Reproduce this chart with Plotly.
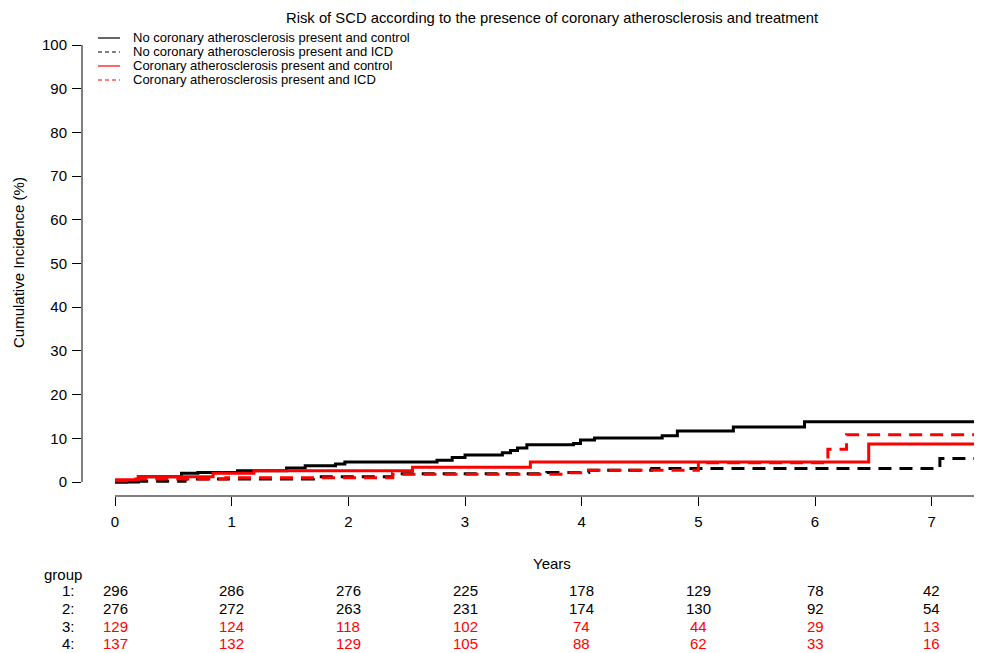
import plotly.graph_objects as go

# ---------------- data ----------------
title_text = "Risk of SCD according to the presence of coronary atherosclerosis and treatment"
series_names = [
    "No coronary atherosclerosis present and control",
    "No coronary atherosclerosis present and ICD",
    "Coronary atherosclerosis present and control",
    "Coronary atherosclerosis present and ICD",
]
series_colors = ["black", "black", "red", "red"]
series_dash = ["solid", "13px,8px", "solid", "13px,8px"]

g1_time = [0, 0.20, 0.57, 0.71, 1.05, 1.47, 1.63, 1.89, 1.97, 2.76, 2.89, 3.00, 3.32, 3.39,
           3.45, 3.53, 3.93, 3.99, 4.11, 4.69, 4.82, 5.30, 5.91, 7.6]
g1_cif = [0, 1.2, 2.0, 2.2, 2.6, 3.2, 3.7, 4.1, 4.6, 5.0, 5.6, 6.2, 6.7, 7.2,
          7.8, 8.5, 8.8, 9.6, 10.1, 10.6, 11.7, 12.6, 13.8, 13.8]

g2_time = [0, 0.10, 0.60, 1.70, 2.38, 3.70, 4.06, 4.60, 7.07, 7.6]
g2_cif = [0, 0.2, 0.7, 1.2, 1.9, 2.2, 2.7, 3.1, 5.4, 5.4]

g3_time = [0, 0.20, 0.84, 1.19, 2.55, 3.56, 6.46, 7.6]
g3_cif = [0.5, 1.2, 2.0, 2.6, 3.4, 4.6, 8.7, 8.7]

g4_time = [0, 0.15, 0.95, 2.38, 3.90, 4.06, 5.00, 6.11, 6.27, 7.6]
g4_cif = [0.3, 0.7, 1.0, 1.8, 2.1, 2.7, 4.4, 7.5, 10.8, 10.8]

risk_times = [0, 1, 2, 3, 4, 5, 6, 7]
risk_g1 = [296, 286, 276, 225, 178, 129, 78, 42]
risk_g2 = [276, 272, 263, 231, 174, 130, 92, 54]
risk_g3 = [129, 124, 118, 102, 74, 44, 29, 13]
risk_g4 = [137, 132, 129, 105, 88, 62, 33, 16]
risk_labels = ["1:", "2:", "3:", "4:"]

y_ticks = [0, 10, 20, 30, 40, 50, 60, 70, 80, 90, 100]
x_ticks = [0, 1, 2, 3, 4, 5, 6, 7]

# ---------------- layout helpers ----------------
OFF = 8                      # page body margin in the browser
W, H = 982 - OFF, 653 - OFF  # figure size so it fills the window exactly
L, R, T, B = 82 - OFF, 0, 28 - OFF, 653 - 496
PW, PH = W - L - R, H - T - B
FONT = "Liberation Sans, Arial, sans-serif"


def fx(px):
    """page pixel x -> paper x"""
    return (px - OFF - L) / PW


def fy(py):
    """page pixel y -> paper y"""
    return (H - B - (py - OFF)) / PH


fig = go.Figure()

times = [g1_time, g2_time, g3_time, g4_time]
cifs = [g1_cif, g2_cif, g3_cif, g4_cif]
for t, c, name, col, dash in zip(times, cifs, series_names, series_colors, series_dash):
    fig.add_trace(go.Scatter(
        x=t, y=c, mode="lines", name=name, line_shape="hv",
        line=dict(color=col, width=3, dash=dash), showlegend=False,
        hoverinfo="skip"))

annotations = []
shapes = []

# title
annotations.append(dict(text=title_text, x=fx(552), y=fy(18), xref="paper", yref="paper",
                        xanchor="center", yanchor="middle", showarrow=False,
                        font=dict(family=FONT, size=14.8, color="black")))

# y axis title
annotations.append(dict(text="Cumulative Incidence (%)", x=fx(18), y=fy(263), xref="paper",
                        yref="paper", xanchor="center", yanchor="middle", textangle=-90,
                        showarrow=False, font=dict(family=FONT, size=15, color="black")))

# x axis title
annotations.append(dict(text="Years", x=fx(552), y=fy(563), xref="paper", yref="paper",
                        xanchor="center", yanchor="middle", showarrow=False,
                        font=dict(family=FONT, size=15, color="black")))

# legend (manual, compact like base R)
leg_y = [37.5, 51.5, 65.5, 79.5]
for name, col, dash, yy in zip(series_names, series_colors, series_dash, leg_y):
    ly = yy + 0.5
    shapes.append(dict(type="line", xref="paper", yref="paper", x0=fx(98), x1=fx(120),
                       y0=fy(ly), y1=fy(ly),
                       line=dict(color=col, width=1.2, dash="solid" if dash == "solid" else "4px,3px")))
    annotations.append(dict(text=name, x=fx(132), y=fy(yy), xref="paper", yref="paper",
                            xanchor="left", yanchor="middle", showarrow=False, borderpad=0,
                            font=dict(family=FONT, size=13, color="black")))

# axis lines
shapes.append(dict(type="line", xref="paper", yref="y", x0=0, x1=0, y0=0, y1=100,
                   line=dict(color="black", width=1)))
shapes.append(dict(type="line", xref="x", yref="paper", x0=0, x1=8, y0=0, y1=0,
                   line=dict(color="black", width=1)))

# risk table
annotations.append(dict(text="group", x=fx(42), y=fy(574), xref="paper", yref="paper",
                        xanchor="left", yanchor="middle", showarrow=False,
                        font=dict(family=FONT, size=15, color="black")))
row_y = [590.5, 608.2, 626, 643.5]
row_cols = ["black", "black", "red", "red"]
for lab, vals, yy, col in zip(risk_labels, [risk_g1, risk_g2, risk_g3, risk_g4], row_y, row_cols):
    annotations.append(dict(text=lab, x=fx(77), y=fy(yy), xref="paper", yref="paper",
                            xanchor="right", yanchor="middle", showarrow=False,
                            font=dict(family=FONT, size=15, color="black")))
    for tt, v in zip(risk_times, vals):
        annotations.append(dict(text=str(v), x=tt, y=fy(yy), xref="x", yref="paper",
                                xanchor="center", yanchor="middle", showarrow=False,
                                font=dict(family=FONT, size=15, color=col)))

fig.update_layout(
    width=W, height=H,
    margin=dict(l=L, r=R, t=T, b=B, pad=0),
    paper_bgcolor="white", plot_bgcolor="white",
    showlegend=False,
    annotations=annotations,
    shapes=shapes,
    xaxis=dict(range=[-0.283, 7.431], tickvals=x_ticks, ticktext=[str(v) for v in x_ticks],
               ticks="outside", ticklen=9, tickwidth=1, tickcolor="black",
               ticklabelstandoff=3,
               showline=False, showgrid=False, zeroline=False,
               tickfont=dict(family=FONT, size=15, color="black")),
    yaxis=dict(range=[-3.2, 103.89], tickvals=y_ticks, ticktext=[str(v) for v in y_ticks],
               ticks="outside", ticklen=9, tickwidth=1, tickcolor="black",
               ticklabelstandoff=2,
               showline=False, showgrid=False, zeroline=False,
               tickfont=dict(family=FONT, size=15, color="black")),
)

fig.write_html("out.html")
